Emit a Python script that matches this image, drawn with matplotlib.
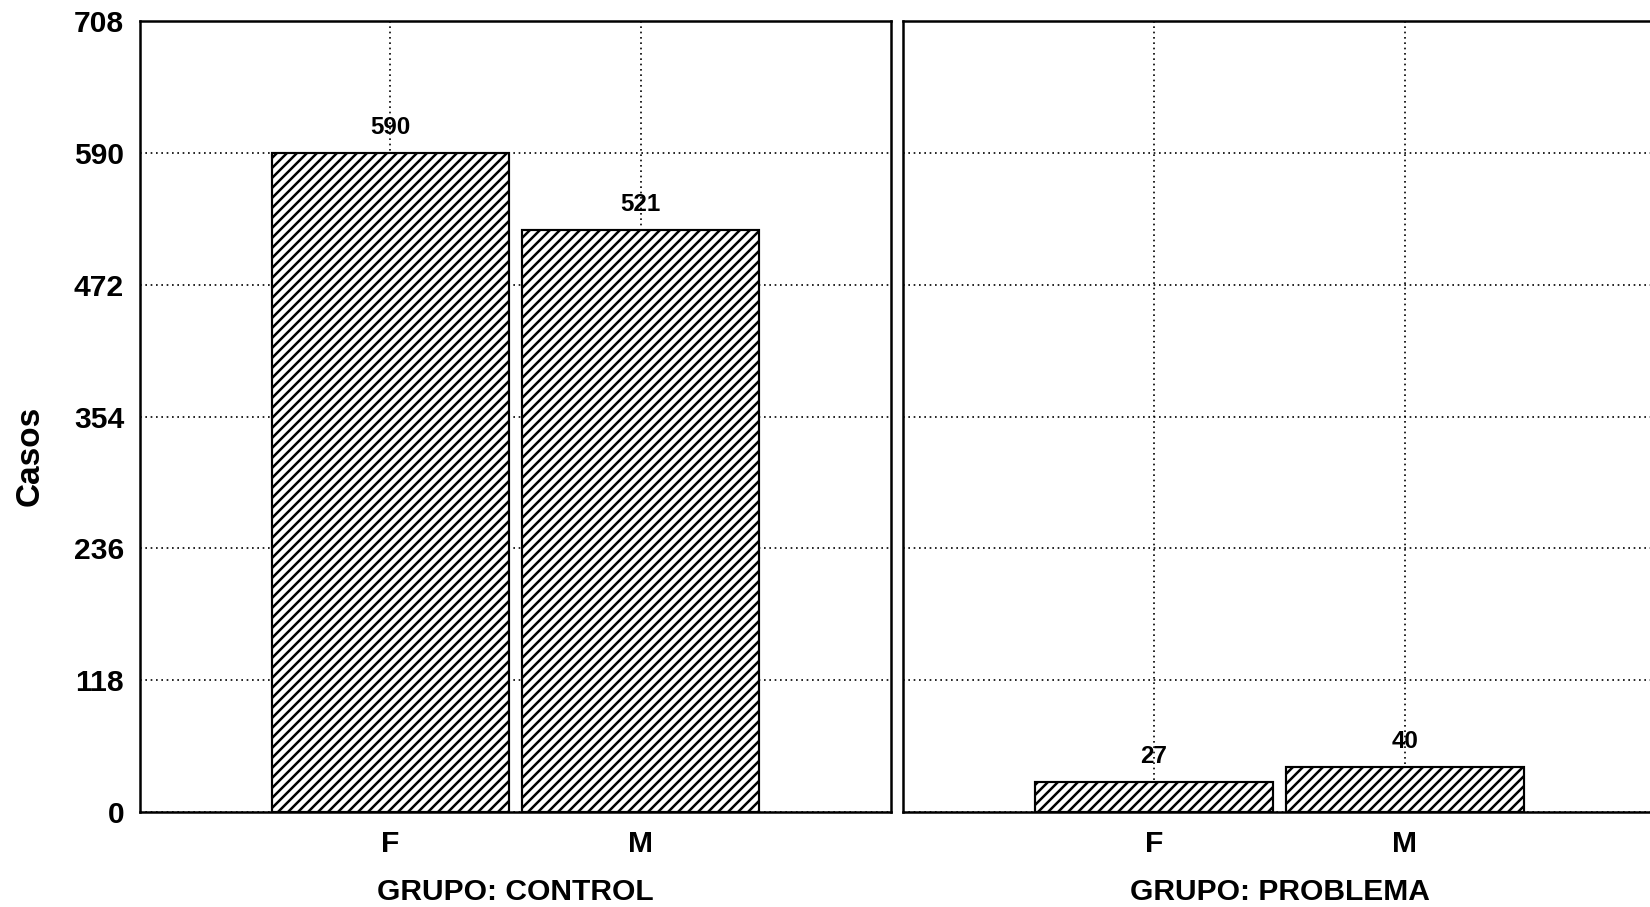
import matplotlib
matplotlib.use("Agg")
import matplotlib.pyplot as plt

plt.rcParams['font.family'] = ['Liberation Sans', 'DejaVu Sans']
plt.rcParams['font.weight'] = 'bold'
plt.rcParams['hatch.linewidth'] = 1.5
plt.rcParams['hatch.color'] = 'black'

sexos = ["F", "M"]
casos_control = [590, 521]
casos_problema = [27, 40]
grupos = ["GRUPO: CONTROL", "GRUPO: PROBLEMA"]
y_ticks = [0, 118, 236, 354, 472, 590, 708]

DPI = 120
fig = plt.figure(figsize=(1650 / DPI, 907 / DPI), dpi=DPI)

# axes boxes in pixel terms of the 1650x907 picture
ax1 = fig.add_axes([140 / 1650, 95 / 907, 751 / 1650, 791 / 907])
ax2 = fig.add_axes([903 / 1650, 95 / 907, 753 / 1650, 791 / 907])

for ax, valores, grupo in [(ax1, casos_control, grupos[0]), (ax2, casos_problema, grupos[1])]:
    ax.set_axisbelow(True)
    bars = ax.bar(sexos, valores, width=0.945, color="white", edgecolor="black",
                  linewidth=1.3, hatch="////", zorder=2)
    for b, v in zip(bars, valores):
        ax.annotate(str(v), (b.get_x() + b.get_width() / 2, v),
                    xytext=(0, 11.5), textcoords="offset points",
                    ha="center", va="baseline", fontsize=14.5, fontweight="bold")

    ax.set_xlim(-1, 2)
    ax.set_ylim(0, 708)
    ax.set_yticks(y_ticks)
    ax.grid(True, color="black", linestyle=(0, (1, 2.2)), linewidth=1.0)
    ax.tick_params(length=0, labelsize=18)
    ax.tick_params(axis="x", pad=11)
    ax.tick_params(axis="y", pad=9.5)
    for s in ax.spines.values():
        s.set_linewidth(1.5)
    ax.set_xlabel(grupo, fontsize=18, fontweight="bold", labelpad=12)

ax2.tick_params(axis="y", labelleft=False)

fig.text(30 / 1650, 1 - 456 / 907, "Casos", rotation=90, ha="center", va="center",
         fontsize=20, fontweight="bold")

fig.savefig("out.png", dpi=DPI)
